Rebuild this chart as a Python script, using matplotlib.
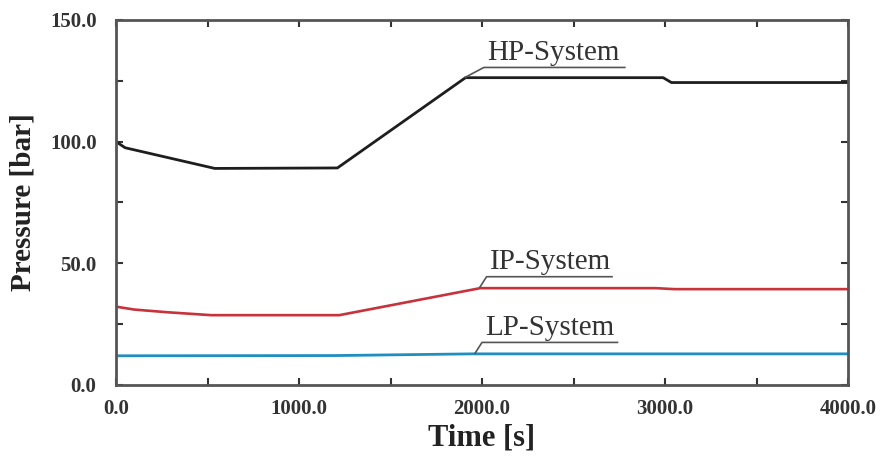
import numpy as np
import matplotlib.pyplot as plt
from matplotlib.ticker import MultipleLocator, FormatStrFormatter

# pressure histories [bar] over time [s]
hp_t = [0, 50, 540, 1210, 1910, 2990, 3035, 4000]
hp_p = [100.0, 97.5, 89.0, 89.2, 126.3, 126.3, 124.3, 124.3]

ip_t = [0, 100, 280, 520, 1220, 1990, 2950, 3050, 4000]
ip_p = [32.2, 31.0, 29.9, 28.7, 28.7, 39.8, 39.8, 39.4, 39.4]

lp_t = [0, 1200, 1950, 4000]
lp_p = [12.0, 12.1, 12.8, 12.8]

# label text, curve point where the leader starts, knee, end of underline
labels = ["HP-System", "IP-System", "LP-System"]
label_start = [(1905, 126.3), (1985, 39.8), (1960, 12.8)]
label_knee = [(2010, 130.5), (2025, 44.5), (2000, 17.5)]
label_end = [2785, 2715, 2745]

plt.rcParams['font.family'] = ['Liberation Serif', 'DejaVu Serif']

fig = plt.figure(figsize=(8.83, 4.57), dpi=100)
ax = fig.add_axes([116/883, 72/457, 732/883, 365/457])

ax.plot(hp_t, hp_p, color='#1e1e1e', lw=2.0)
ax.plot(ip_t, ip_p, color='#c8323a', lw=1.9)
ax.plot(lp_t, lp_p, color='#1f8fc0', lw=2.0)

for name, s, k, e in zip(labels, label_start, label_knee, label_end):
    ax.plot([s[0], k[0], e], [s[1], k[1], k[1]], color='#555555', lw=1.2,
            solid_capstyle='butt')
    ax.text(k[0] + 20, k[1] + 0.6, name, fontsize=21, color='#333333',
            ha='left', va='bottom')

ax.set_xlim(0, 4000)
ax.set_ylim(0, 150)
ax.xaxis.set_major_locator(MultipleLocator(1000))
ax.xaxis.set_minor_locator(MultipleLocator(500))
ax.yaxis.set_major_locator(MultipleLocator(50))
ax.yaxis.set_minor_locator(MultipleLocator(25))
ax.xaxis.set_major_formatter(FormatStrFormatter('%.1f'))
ax.yaxis.set_major_formatter(FormatStrFormatter('%.1f'))

ax.tick_params(which='both', direction='in', top=True, right=True,
               color='#333333', width=1.5, length=5)
ax.tick_params(axis='y', pad=14)
ax.tick_params(axis='x', pad=10)
for lab in ax.get_xticklabels() + ax.get_yticklabels():
    lab.set_fontsize(15)
    lab.set_fontweight('bold')
    lab.set_color('#333333')

for sp in ax.spines.values():
    sp.set_linewidth(2.0)
    sp.set_color('#555555')

ax.set_xlabel('Time [s]', fontsize=22, fontweight='bold', color='#222222',
              labelpad=3)
ax.set_ylabel('Pressure [bar]', fontsize=21, fontweight='bold',
              color='#222222', labelpad=10)

fig.savefig('out.png', dpi=100)
